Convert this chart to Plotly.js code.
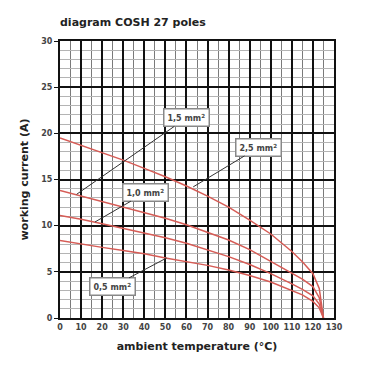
<!DOCTYPE html>
<html>
<head>
<meta charset="utf-8">
<script src="https://cdn.plot.ly/plotly-3.0.1.min.js"></script>
<style>html,body{margin:0;padding:0;background:#fff;}#chart{width:380px;height:380px;}</style>
</head>
<body>
<div id="chart"></div>
<script>
// ambient temperature (°C)
const temps = [0, 10, 20, 30, 40, 50, 60, 70, 80, 90, 100, 110, 115, 120, 123, 125];
// working current (A) per conductor cross-section
const current_2_5 = [19.5, 18.7, 17.9, 17.1, 16.2, 15.3, 14.3, 13.2, 12.0, 10.6, 9.1, 7.2, 6.1, 4.8, 3.2, 0];
const current_1_5 = [13.8, 13.2, 12.6, 12.0, 11.4, 10.8, 10.1, 9.3, 8.45, 7.4, 6.1, 4.8, 4.2, 3.4, 2.2, 0];
const current_1_0 = [11.1, 10.7, 10.2, 9.7, 9.2, 8.7, 8.1, 7.4, 6.65, 5.8, 4.8, 3.7, 3.1, 2.4, 1.5, 0];
const current_0_5 = [8.4, 8.0, 7.65, 7.3, 6.95, 6.5, 6.1, 5.7, 5.2, 4.6, 3.9, 3.0, 2.5, 1.8, 1.1, 0];
const seriesNames = ['2,5 mm²', '1,5 mm²', '1,0 mm²', '0,5 mm²'];

// callout: label position and the curve point it points to
const labelX = [94.4, 60.2, 40.8, 24.9];
const labelY = [18.5, 21.7, 13.6, 3.4];
const pointX = [63.2, 7.9, 16.6, 50.6];
const pointY = [14.2, 13.4, 10.4, 6.5];

const allSeries = [current_2_5, current_1_5, current_1_0, current_0_5];
const red = 'rgb(214,92,86)';
const traces = allSeries.map((ys, i) => ({
  x: temps, y: ys, type: 'scatter', mode: 'lines', name: seriesNames[i],
  xaxis: 'x2', yaxis: 'y2',
  line: {color: red, width: 1.5}, hoverinfo: 'skip'
}));
// invisible trace to initialise the minor-grid subplot
traces.unshift({x: [0], y: [0], type: 'scatter', mode: 'markers', marker: {opacity: 0}, hoverinfo: 'skip'});

const annotations = seriesNames.map((t, i) => ({
  text: t.replace('²', '<sup>2</sup>'),
  x: pointX[i], y: pointY[i], xref: 'x2', yref: 'y2',
  ax: labelX[i], ay: labelY[i], axref: 'x2', ayref: 'y2',
  showarrow: true, arrowhead: 0, arrowwidth: 1, arrowcolor: '#333',
  bgcolor: '#fff', bordercolor: '#888', borderwidth: 1.5, borderpad: 3,
  font: {family: 'DejaVu Sans', size: 8, color: '#444', weight: 'bold'}
}));

const tf = {family: 'DejaVu Sans', size: 8, color: '#444', weight: 'bold'};
const titleFont = {family: 'DejaVu Sans', size: 11, color: '#222', weight: 'bold'};

const layout = {
  width: 380, height: 380,
  margin: {l: 60, r: 46, t: 41, b: 62},
  paper_bgcolor: '#fff', plot_bgcolor: '#fff',
  showlegend: false,
  title: {text: 'diagram COSH 27 poles', x: 60/380, xanchor: 'left', xref: 'container',
          y: 1 - 22/380, yanchor: 'middle', yref: 'container', font: titleFont},
  // minor grid
  xaxis: {range: [0, 130], tickmode: 'linear', tick0: 0, dtick: 5,
          showgrid: true, gridcolor: '#7a7a7a', gridwidth: 1,
          showticklabels: false, ticks: '', showline: false, zeroline: false},
  yaxis: {range: [0, 30], tickmode: 'linear', tick0: 0, dtick: 1,
          showgrid: true, gridcolor: '#b4b4b4', gridwidth: 1,
          showticklabels: false, ticks: '', showline: false, zeroline: false},
  // major grid, labels and data
  xaxis2: {
    overlaying: 'x', anchor: 'y2', side: 'bottom',
    range: [0, 130], tickmode: 'linear', tick0: 0, dtick: 10,
    showgrid: true, gridcolor: '#111', gridwidth: 2,
    showline: true, mirror: true, linecolor: '#111', linewidth: 2,
    ticks: '', zeroline: false, tickfont: tf,
    title: {text: 'ambient temperature (°C)', standoff: 12, font: titleFont}
  },
  yaxis2: {
    overlaying: 'y', anchor: 'x2', side: 'left',
    range: [0, 30], tickmode: 'linear', tick0: 0, dtick: 5,
    showgrid: true, gridcolor: '#111', gridwidth: 2,
    showline: true, mirror: true, linecolor: '#111', linewidth: 2,
    ticks: 'outside', ticklen: 4, tickcolor: '#111', tickwidth: 1, zeroline: false,
    tickfont: tf,
    title: {text: 'working current (A)', standoff: 10, font: titleFont}
  },
  annotations: annotations
};

Plotly.newPlot('chart', traces, layout, {staticPlot: true, displayModeBar: false});
</script>
</body>
</html>
